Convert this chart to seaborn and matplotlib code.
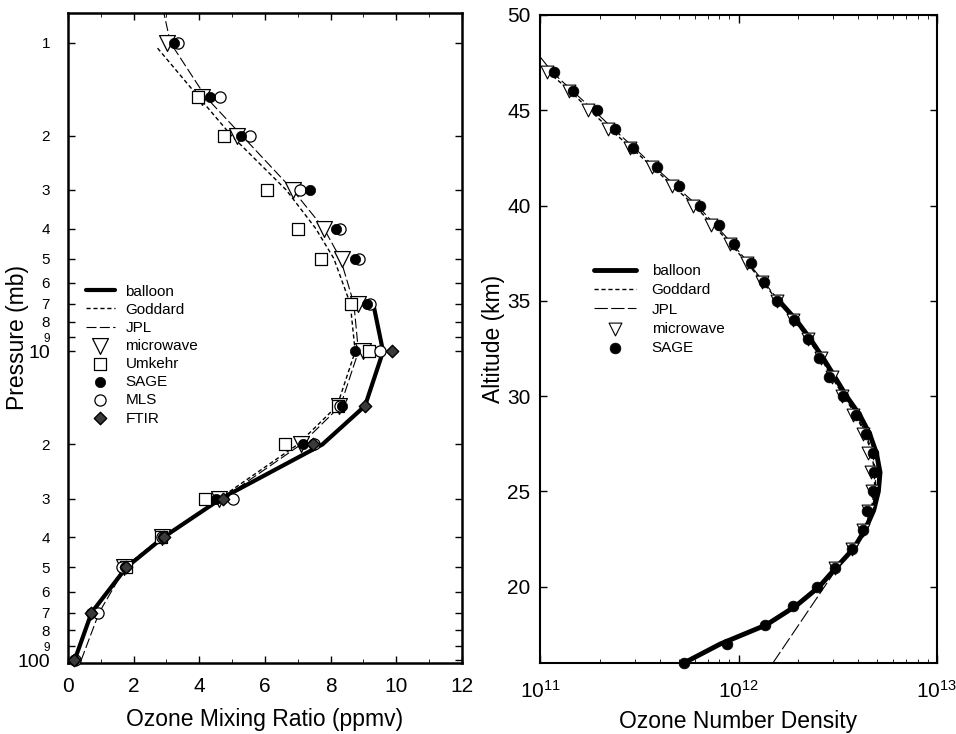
import numpy as np
import pandas as pd
import matplotlib
matplotlib.use("Agg")
import matplotlib.pyplot as plt
import seaborn as sns

sns.set_style("ticks")
plt.rcParams['font.family'] = ['Liberation Sans', 'DejaVu Sans']
plt.rcParams['mathtext.default'] = 'regular'
for key in ['text.color', 'axes.labelcolor', 'xtick.color', 'ytick.color', 'axes.edgecolor']:
    plt.rcParams[key] = 'black'

# ---- left panel: mixing ratio (ppmv) vs pressure (mb)
balloon_p = [100, 70, 50, 40, 30, 20, 15, 10, 7]
balloon_mr = [0.2, 0.72, 1.78, 2.9, 4.65, 7.75, 9.05, 9.6, 9.3]

goddard_p = [100, 70, 50, 40, 30, 20, 15, 10, 7, 5, 4, 3, 2, 1.5, 1.03]
goddard_mr = [0.2, 0.75, 1.72, 2.85, 4.6, 7.0, 8.2, 8.75, 8.6, 8.1, 7.55, 6.65, 4.98, 3.98, 2.69]

jpl_p = [100, 70, 50, 40, 30, 20, 15, 10, 7, 5, 4, 3, 2, 1.5, 1, 0.8]
jpl_mr = [0.4, 0.95, 1.75, 2.9, 4.7, 7.1, 8.3, 8.85, 8.71, 8.3, 7.8, 6.85, 5.3, 4.2, 3.12, 2.92]

mw_p = [1, 1.5, 2, 3, 4, 5, 7, 10, 15, 20, 30, 40, 50]
mw_mr = [3.02, 4.08, 5.14, 6.85, 7.80, 8.36, 8.83, 8.99, 8.26, 7.1, 4.6, 2.85, 1.72]

umk_p = [1.5, 2, 3, 4, 5, 7, 10, 15, 20, 30, 40, 50]
umk_mr = [3.96, 4.76, 6.06, 7.02, 7.72, 8.63, 9.16, 8.23, 6.6, 4.16, 2.82, 1.78]

sage_p = [1, 1.5, 2, 3, 4, 5, 7, 10, 15, 20, 30, 40, 50, 70, 100]
sage_mr = [3.22, 4.33, 5.26, 7.38, 8.18, 8.73, 9.11, 8.73, 8.36, 7.17, 4.51, 2.88, 1.75, 0.7, 0.17]

mls_p = [1, 1.5, 2, 3, 4, 5, 7, 10, 15, 20, 30, 40, 50, 70, 100]
mls_mr = [3.34, 4.63, 5.56, 7.07, 8.29, 8.88, 9.19, 9.52, 8.3, 7.5, 5.04, 2.85, 1.66, 0.93, 0.22]

ftir_p = [10, 15, 20, 30, 40, 50, 70, 100]
ftir_mr = [9.87, 9.04, 7.48, 4.73, 2.92, 1.78, 0.7, 0.17]

p_ticks = [1, 2, 3, 4, 5, 6, 7, 8, 9, 10, 20, 30, 40, 50, 60, 70, 80, 90, 100]
p_ticklabels = ['1', '2', '3', '4', '5', '6', '7', '8', '9', '10',
                '2', '3', '4', '5', '6', '7', '8', '9', '100']

# ---- right panel: number density vs altitude (km)
sage_alt = list(range(16, 48))
sage_nd = [5.3e11, 8.7e11, 1.36e12, 1.89e12, 2.50e12, 3.06e12, 3.72e12, 4.22e12,
           4.46e12, 4.78e12, 4.82e12, 4.74e12, 4.39e12, 3.91e12, 3.37e12, 2.87e12,
           2.54e12, 2.25e12, 1.91e12, 1.57e12, 1.34e12, 1.16e12, 9.5e11, 8.0e11,
           6.4e11, 5.0e11, 3.87e11, 2.95e11, 2.39e11, 1.93e11, 1.47e11, 1.17e11]

mw_alt = list(range(21, 48))
mw_nd = [3.06e12, 3.72e12, 4.26e12, 4.51e12, 4.69e12, 4.64e12, 4.51e12, 4.25e12,
         3.79e12, 3.31e12, 2.95e12, 2.62e12, 2.25e12, 1.89e12, 1.57e12, 1.32e12,
         1.10e12, 9.06e11, 7.3e11, 5.9e11, 4.6e11, 3.65e11, 2.84e11, 2.21e11,
         1.75e11, 1.39e11, 1.08e11]

balloon_alt = list(range(16, 36))
balloon_nd = [5.3e11, 8.1e11, 1.38e12, 1.95e12, 2.55e12, 3.1e12, 3.8e12, 4.35e12,
              4.8e12, 5.07e12, 5.17e12, 4.96e12, 4.59e12, 4.09e12, 3.5e12, 3.06e12,
              2.67e12, 2.3e12, 1.95e12, 1.6e12]

goddard_alt = list(range(16, 48)) + [47.3]
goddard_nd = [5.5e11, 8.0e11, 1.35e12, 1.9e12, 2.5e12, 3.1e12, 3.75e12, 4.3e12,
              4.65e12, 4.85e12, 4.85e12, 4.7e12, 4.35e12, 3.9e12, 3.4e12, 2.95e12,
              2.6e12, 2.25e12, 1.9e12, 1.58e12, 1.32e12, 1.1e12, 9.1e11, 7.4e11,
              6.0e11, 4.7e11, 3.7e11, 2.9e11, 2.25e11, 1.78e11, 1.42e11, 1.1e11, 1.03e11]

jpl_alt = [16] + list(range(21, 48)) + [47.8]
jpl_nd = [1.49e12, 3.15e12, 3.8e12, 4.35e12, 4.7e12, 4.9e12, 4.9e12, 4.75e12, 4.4e12,
          3.95e12, 3.45e12, 3.0e12, 2.62e12, 2.27e12, 1.92e12, 1.6e12, 1.34e12,
          1.12e12, 9.3e11, 7.6e11, 6.2e11, 4.85e11, 3.8e11, 3.0e11, 2.35e11,
          1.86e11, 1.46e11, 1.15e11, 1.0e11]

fig = plt.figure(figsize=(9.56, 7.34), dpi=100)
ax1 = fig.add_axes([0.0711, 0.0967, 0.412, 0.886])
ax2 = fig.add_axes([0.565, 0.0967, 0.415, 0.883])

# left panel
ax1.set_yscale('log')
sns.lineplot(x=balloon_mr, y=balloon_p, sort=False, estimator=None, orient='y',
             color='black', lw=3, ax=ax1, label='balloon')
sns.lineplot(x=goddard_mr, y=goddard_p, sort=False, estimator=None, orient='y',
             color='black', lw=1, linestyle=(0, (3, 2)), ax=ax1, label='Goddard')
sns.lineplot(x=jpl_mr, y=jpl_p, sort=False, estimator=None, orient='y',
             color='black', lw=0.8, linestyle=(0, (9, 3)), ax=ax1, label='JPL')
sns.scatterplot(x=mw_mr, y=mw_p, marker='v', s=130, facecolor='white',
                edgecolor='black', linewidth=0.9, ax=ax1, label='microwave', zorder=3)
sns.scatterplot(x=umk_mr, y=umk_p, marker='s', s=65, facecolor='white',
                edgecolor='black', linewidth=0.9, ax=ax1, label='Umkehr', zorder=3)
sns.scatterplot(x=sage_mr, y=sage_p, marker='o', s=55, color='black',
                edgecolor='black', linewidth=0.5, ax=ax1, label='SAGE', zorder=4,
                clip_on=False)
sns.scatterplot(x=mls_mr, y=mls_p, marker='o', s=65, facecolor='white',
                edgecolor='black', linewidth=0.9, ax=ax1, label='MLS', zorder=3,
                clip_on=False)
sns.scatterplot(x=ftir_mr, y=ftir_p, marker='D', s=40, color='#3a3a3a',
                edgecolor='black', linewidth=1.0, ax=ax1, label='FTIR', zorder=5,
                clip_on=False)

ax1.set_xlim(0, 12)
ax1.set_ylim(102, 0.8)
ax1.set_yticks(p_ticks, p_ticklabels)
ax1.yaxis.set_minor_locator(matplotlib.ticker.NullLocator())
for val, lab in zip(p_ticks, ax1.get_yticklabels()):
    if val in (10, 100):
        lab.set_fontsize(14)
    elif val in (9, 90):
        lab.set_fontsize(8.5)
    else:
        lab.set_fontsize(11)
ax1.set_xticks([0, 2, 4, 6, 8, 10, 12])
ax1.xaxis.set_minor_locator(matplotlib.ticker.MultipleLocator(1))
ax1.tick_params(axis='x', which='major', labelsize=15, direction='in', top=True,
                length=5, width=1, pad=10)
ax1.tick_params(axis='x', which='minor', direction='in', top=True, length=3)
ax1.tick_params(axis='y', direction='in', right=True, length=5, width=1, pad=13)
ax1.set_xlabel('Ozone Mixing Ratio (ppmv)', fontsize=16.5, labelpad=9)
ax1.set_ylabel('Pressure (mb)', fontsize=16.5)
ax1.yaxis.set_label_coords(-0.1, 0.5)
for sp in ax1.spines.values():
    sp.set_linewidth(1.8)

h, l = ax1.get_legend_handles_labels()
ax1.legend(h, l, loc='upper left', bbox_to_anchor=(0.01, 0.603), frameon=False,
           fontsize=11, handlelength=1.9, handletextpad=0.7, labelspacing=0.27)

# right panel
ax2.set_xscale('log')
sns.lineplot(x=balloon_nd, y=balloon_alt, sort=False, estimator=None, orient='y',
             color='black', lw=3.5, ax=ax2, label='balloon')
sns.lineplot(x=goddard_nd, y=goddard_alt, sort=False, estimator=None, orient='y',
             color='black', lw=1, linestyle=(0, (3, 2)), ax=ax2, label='Goddard')
sns.lineplot(x=jpl_nd, y=jpl_alt, sort=False, estimator=None, orient='y',
             color='black', lw=0.8, linestyle=(0, (12, 3)), ax=ax2, label='JPL')
sns.scatterplot(x=mw_nd, y=mw_alt, marker='v', s=85, facecolor='white',
                edgecolor='black', linewidth=0.8, ax=ax2, label='microwave', zorder=3)
sns.scatterplot(x=sage_nd, y=sage_alt, marker='o', s=60, color='black',
                edgecolor='black', linewidth=0.5, ax=ax2, label='SAGE', zorder=4,
                clip_on=False)

ax2.set_xlim(1e11, 1e13)
ax2.set_ylim(16, 50)
ax2.set_yticks([20, 25, 30, 35, 40, 45, 50])
ax2.tick_params(axis='x', which='major', labelsize=15, direction='in', top=True,
                length=6, width=1, pad=12)
ax2.tick_params(axis='x', which='minor', direction='in', top=True, length=3)
ax2.tick_params(axis='y', labelsize=15, direction='in', right=True, length=5,
                width=1, pad=7)
ax2.set_xlabel('Ozone Number Density', fontsize=16.5, labelpad=6)
ax2.set_ylabel('Altitude (km)', fontsize=16.5)
ax2.yaxis.set_label_coords(-0.088, 0.5)
for sp in ax2.spines.values():
    sp.set_linewidth(1.5)

h, l = ax2.get_legend_handles_labels()
ax2.legend(h, l, loc='upper left', bbox_to_anchor=(0.1, 0.637), frameon=False,
           fontsize=11, handlelength=2.8, handletextpad=1.0, labelspacing=0.35)

fig.savefig('out.png', dpi=100)
